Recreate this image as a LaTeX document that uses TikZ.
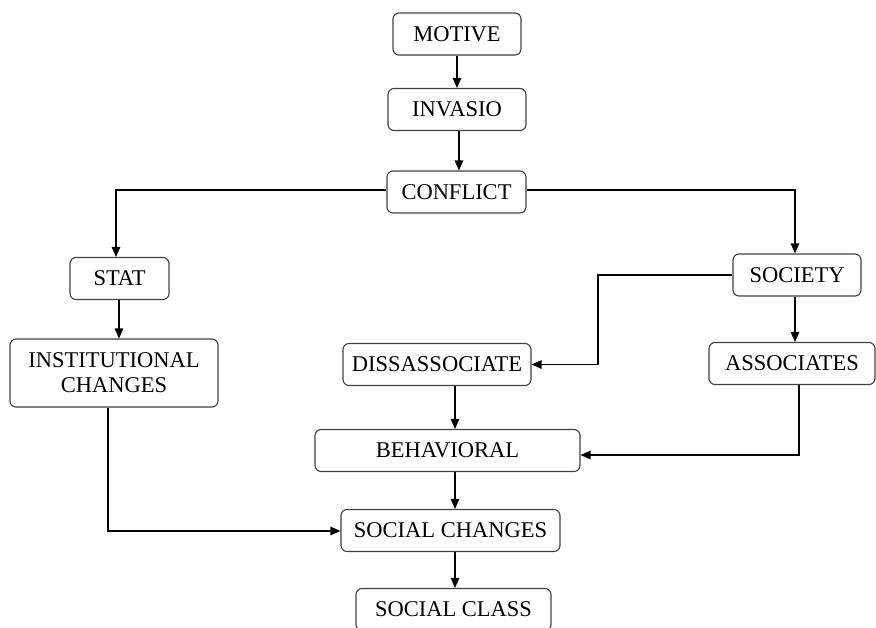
\documentclass[tikz,border=0pt]{standalone}
\usepackage{fontspec}
\setmainfont{Liberation Serif}
\usetikzlibrary{arrows.meta,positioning,calc}
\colorlet{lcbox}{black!75}
\colorlet{lcline}{black}

\begin{document}
\begin{tikzpicture}[%
    x=1pt, y=-1pt,                           % work in pixels of the sketch, top-down
    >={Triangle[length=10pt,width=8.5pt]},   % filled arrow heads
    font=\fontsize{22.5}{25}\selectfont
    ]
% -------------------------------------------------
% Box styles
\tikzset{
  base/.style={draw=lcbox, line width=1.1pt, rounded corners=6pt,
    align=center, inner sep=0pt},
  proc/.style={base, minimum height=42pt},
  % coord node style is used for placing corners of connecting lines
  coord/.style={coordinate},
  % -------------------------------------------------
  % Connector line style
  norm/.style={->, draw, lcline, line width=1.2pt}
}
\useasboundingbox (0,0) rectangle (876,627);
% -------------------------------------------------
% Middle column
\node [proc, minimum width=128pt] (motive)   at (457,34)    {MOTIVE};
\node [proc, minimum width=138pt] (invasio)  at (457,109.5) {INVASIO};
\node [proc, minimum width=139pt] (conflict) at (456.5,192) {CONFLICT};
\node [proc, minimum width=188pt] (diss)     at (437,364.5) {DISSASSOCIATE};
\node [proc, minimum width=265pt] (behav)    at (447.5,450.5) {BEHAVIORAL};
\node [proc, minimum width=219pt] (schange)  at (450.5,530.5) {SOCIAL CHANGES};
\node [proc, minimum width=195pt] (sclass)   at (453.5,609.5) {SOCIAL CLASS};

% Left nodes
\node [proc, minimum width=99pt]  (stat) at (119.5,278.5) {STAT};
\node [proc, minimum width=208pt, minimum height=68pt] (inst) at (114,373)
  {INSTITUTIONAL\\CHANGES};

% Right nodes
\node [proc, minimum width=128pt] (society) at (797,275)   {SOCIETY};
\node [proc, minimum width=166pt] (assoc)   at (792,363.5) {ASSOCIATES};

% -------------------------------------------------
% Columns that the vertical arrows run in
\node [coord] (k1) at (457,0) {};
\node [coord] (k2) at (459,0) {};
\node [coord] (k3) at (119,0) {};
\node [coord] (k4) at (795,0) {};
\node [coord] (k5) at (455,0) {};

% Straight north-south connections
\draw [norm] (k1 |- motive.south)  -- (k1 |- invasio.north);
\draw [norm] (k2 |- invasio.south) -- (k2 |- conflict.north);
\draw [norm] (k3 |- stat.south)    -- (k3 |- inst.north);
\draw [norm] (k4 |- society.south) -- (k4 |- assoc.north);
\draw [norm] (k5 |- diss.south)    -- (k5 |- behav.north);
\draw [norm] (k5 |- behav.south)   -- (k5 |- schange.north);
\draw [norm] (k5 |- schange.south) -- (k5 |- sclass.north);

% -------------------------------------------------
% The twisty connectors
\node [coord] (c0) at (116,190) {};
\draw [norm] (conflict.west |- c0) -- (c0) -- (c0 |- stat.north);
\node [coord] (c4) at (795,190) {};
\draw [norm] (conflict.east |- c4) -- (c4) -- (c4 |- society.north);

\node [coord] (c1) at (598,275) {};
\draw [norm] (society.west) -- (c1) |- (diss.east);

\node [coord] (c2) at (799,455) {};
\draw [norm] (c2 |- assoc.south) -- (c2) -- (behav.east |- c2);

\node [coord] (c3) at (108,531) {};
\draw [norm] (c3 |- inst.south) -- (c3) -- (schange.west |- c3);
% -------------------------------------------------
\end{tikzpicture}
\end{document}
